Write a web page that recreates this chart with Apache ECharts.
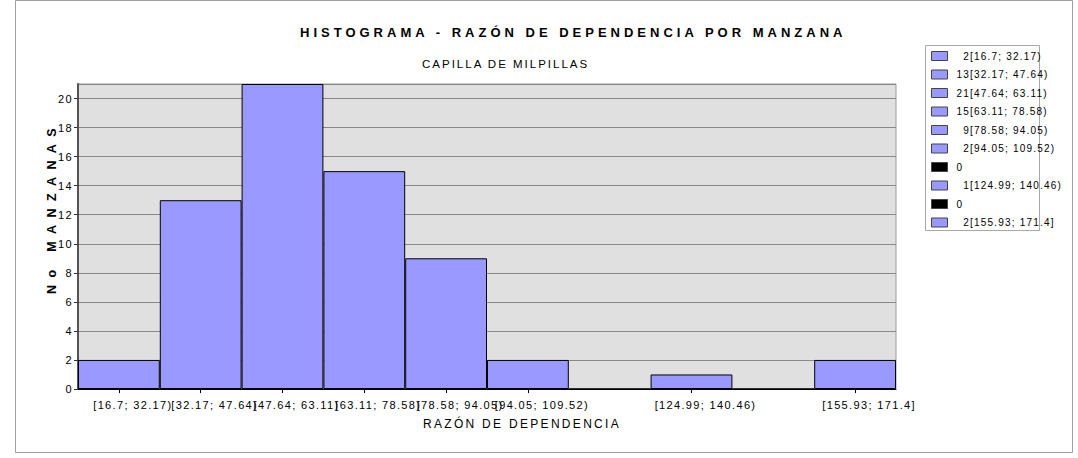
<!DOCTYPE html>
<html>
<head>
<meta charset="utf-8">
<script src="https://cdn.jsdelivr.net/npm/echarts@6/dist/echarts.min.js"></script>
<style>
  html, body { margin: 0; padding: 0; background: #fff; }
  #chart { width: 1078px; height: 458px; }
  #chart text[style*="13px"] { letter-spacing: 4px; }
  #chart text[style*="12.5px"] { letter-spacing: 7.4px; }
  #chart text[style*="12px"] { letter-spacing: 2.3px; }
  #chart text[style*="11.5px"] { letter-spacing: 2px; }
  #chart text[style*="11px"] { letter-spacing: 1.35px; }
  #chart text[style*="10px"] { letter-spacing: 1.2px; }
</style>
</head>
<body>
<div id="chart"></div>
<script>
// ---- data ----
const titleText = 'HISTOGRAMA - RAZÓN DE DEPENDENCIA POR MANZANA';
const subtitleText = 'CAPILLA DE MILPILLAS';
const xAxisTitle = 'RAZÓN DE DEPENDENCIA';
const yAxisTitle = 'No MANZANAS';
const bins = ['[16.7; 32.17)', '[32.17; 47.64)', '[47.64; 63.11)', '[63.11; 78.58)', '[78.58; 94.05)',
              '[94.05; 109.52)', '[109.52; 124.99)', '[124.99; 140.46)', '[140.46; 155.93)', '[155.93; 171.4]'];
const counts = [2, 13, 21, 15, 9, 2, 0, 1, 0, 2];
const tickLabels = ['[16.7; 32.17)', '[32.17; 47.64)', '[47.64; 63.11)', '[63.11; 78.58)', '[78.58; 94.05)',
                    '[94.05; 109.52)', '', '[124.99; 140.46)', '', '[155.93; 171.4]'];
const yTicks = [0, 2, 4, 6, 8, 10, 12, 14, 16, 18, 20];

const FONT = "'Liberation Sans', Arial, sans-serif";
const BAR = '#9999ff';

const series = bins.map((name, i) => ({
  name: name,
  type: 'bar',
  barWidth: '100%',
  barGap: '-100%',
  data: counts.map((c, j) => (j === i ? c : null)),
  itemStyle: { color: counts[i] === 0 ? '#000000' : BAR, borderColor: '#000', borderWidth: 1 },
  emphasis: { disabled: true },
  animation: false
}));

const chart = echarts.init(document.getElementById('chart'), null, { renderer: 'svg' });
chart.setOption({
  animation: false,
  backgroundColor: '#ffffff',
  title: [
    { text: titleText, left: 300, top: 26, padding: 0,
      textStyle: { fontFamily: FONT, fontSize: 13, fontWeight: 'bold', color: '#000' } },
    { text: subtitleText, left: 422, top: 58, padding: 0,
      textStyle: { fontFamily: FONT, fontSize: 11.5, fontWeight: 'normal', color: '#000' } }
  ],
  graphic: [
    { type: 'rect', z: -10, silent: true,
      shape: { x: 15.5, y: 0.5, width: 1057, height: 452 },
      style: { fill: 'none', stroke: '#a0a0a0', lineWidth: 1 } },
    { type: 'rect', z: -5, silent: true,
      shape: { x: 925.5, y: 45.5, width: 114, height: 185 },
      style: { fill: '#ffffff', stroke: '#a8a8a8', lineWidth: 1 } }
  ],
  legend: {
    orient: 'vertical',
    left: 925, top: 45,
    padding: [5, 5, 3, 6],
    itemWidth: 16, itemHeight: 9, itemGap: 6.5,
    borderWidth: 0,
    icon: 'rect',
    selectedMode: false,
    data: bins,
    itemStyle: { borderColor: '#444', borderWidth: 1 },
    textStyle: { fontFamily: FONT, fontSize: 10, color: '#000', lineHeight: 12, padding: [0, 0, 0, 4] },
    formatter: function (name) {
      const i = bins.indexOf(name);
      const c = counts[i];
      if (c === 0) return '0';
      return (c < 10 ? '\u2007' : '') + c + name;
    }
  },
  grid: {
    left: 78, right: 182, top: 84, bottom: 69,
    show: true, backgroundColor: '#e0e0e0', borderColor: '#999999', borderWidth: 1
  },
  xAxis: {
    type: 'category',
    data: tickLabels,
    boundaryGap: true,
    name: xAxisTitle,
    nameLocation: 'middle',
    nameGap: 29,
    nameMoveOverlap: false,
    nameTextStyle: { fontFamily: FONT, fontSize: 12, color: '#000', padding: [0, 0, 0, 70] },
    axisLine: { show: true, lineStyle: { color: '#000', width: 1 } },
    axisTick: { show: true, alignWithLabel: true, length: 4, lineStyle: { color: '#000' },
                interval: function (i) { return tickLabels[i] !== ''; } },
    axisLabel: { interval: 0, margin: 10, fontFamily: FONT, fontSize: 11, color: '#000',
                 padding: [0, 0, 0, 28] },
    splitLine: { show: false }
  },
  yAxis: {
    type: 'value',
    min: 0, max: 21, interval: 2,
    name: yAxisTitle,
    nameLocation: 'middle',
    nameGap: 20,
    nameMoveOverlap: false,
    nameTextStyle: { fontFamily: FONT, fontSize: 12.5, fontWeight: 'bold', color: '#000', padding: [0, 0, 0, 58] },
    axisLine: { show: true, lineStyle: { color: '#555', width: 2 } },
    axisTick: { show: true, length: 4, lineStyle: { color: '#333' } },
    axisLabel: { margin: 5, fontFamily: FONT, fontSize: 11, color: '#000', showMaxLabel: false,
                 formatter: function (v) { return yTicks.indexOf(v) >= 0 ? String(v) : ''; } },
    splitLine: { show: true, lineStyle: { color: '#888888', width: 1 } }
  },
  series: series
});
</script>
</body>
</html>
